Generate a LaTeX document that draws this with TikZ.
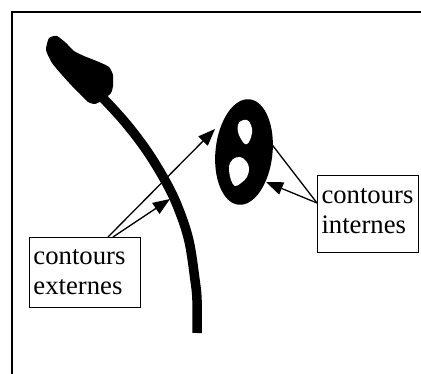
\documentclass[tikz,border=0pt]{standalone}
\usepackage{fontspec}
\setmainfont{Liberation Serif}
\usetikzlibrary{arrows.meta}
\begin{document}
\begin{tikzpicture}[x=1pt,y=-1pt,
  labelbox/.style={draw,line width=1pt,anchor=north west,inner xsep=4pt,inner ysep=0pt,
    align=left,font=\fontsize{26.7}{30}\selectfont},
  conn/.style={line width=1.3pt},
  arr/.style={conn,-{Triangle[length=17pt,width=13pt]}}]
\useasboundingbox (0,0) rectangle (421,374);
\fill[white] (0,0) rectangle (421,374);
% frame
\draw[line width=2.5pt] (430,12) -- (12,12) -- (12,380);
% blade bulb
\fill[black] plot[smooth cycle,tension=0.35] coordinates {
 (49,38) (57,36) (66,43) (74,51) (84,56) (99,62) (109,67) (113,75) (113,86)
 (111,93) (103,100) (95,104) (88,102) (80,94) (72,86) (62,75) (52,63) (46,50)};
% blade stroke
\draw[line width=9.5pt] plot[smooth,tension=0.6] coordinates {
 (100,95) (124,121) (147,151) (167,184) (179,210) (189,241) (195,280) (197,300) (197,333)};
% zero shape
\fill[black,rotate around={-6:(244,152)}] (244,152) ellipse [x radius=28.5, y radius=53];
\fill[white] plot[smooth cycle,tension=0.7] coordinates {
 (241,121) (247,120) (251,125) (252,133) (249,142) (245,144) (241,139) (238,132) (238,125)};
\fill[white] plot[smooth cycle,tension=0.7] coordinates {
 (233,159) (240,157) (246,161) (249,168) (247,177) (241,183) (235,186) (231,180) (229,170) (230,163)};
% target points
\coordinate (ellL) at (215,129);
\coordinate (strokeP) at (170,199);
\coordinate (ellR1) at (270,142);
\coordinate (ellR2) at (266,182);
% boxes
\node[labelbox,minimum width=111pt,minimum height=70pt,text width=103pt] (boxE) at (29,237) {contours\\externes};
\node[labelbox,minimum width=101pt,minimum height=77pt,text width=93pt] (boxI) at (317,175) {contours\\internes\rule[-6pt]{0pt}{6pt}};
% connectors
\draw[arr] ([xshift=79pt]boxE.north west) -- (ellL);
\draw[arr] ([xshift=84pt]boxE.north west) -- (strokeP);
\draw[conn] ([yshift=-28pt]boxI.north west) -- (ellR1);
\draw[arr] ([yshift=-28pt]boxI.north west) -- (ellR2);
\end{tikzpicture}
\end{document}
